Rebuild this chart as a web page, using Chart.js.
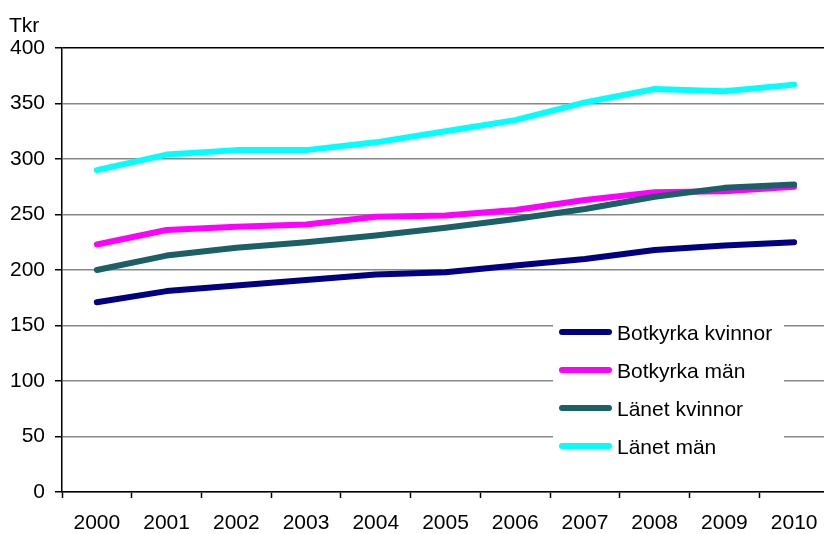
<!DOCTYPE html>
<html>
<head>
<meta charset="utf-8">
<script src="https://cdn.jsdelivr.net/npm/chart.js@4/dist/chart.umd.min.js"></script>
<style>
html, body { margin: 0; padding: 0; background: #fff; overflow: hidden; }
#wrap { width: 832px; height: 534px; }
</style>
</head>
<body>
<div id="wrap"><canvas id="c" width="832" height="534"></canvas></div>
<script>
var years = ['2000', '2001', '2002', '2003', '2004', '2005', '2006', '2007', '2008', '2009', '2010'];
var botkyrkaKvinnor = [171, 181, 186, 191, 196, 198, 204, 210, 218, 222, 225];
var botkyrkaMan = [223, 236, 239, 241, 248, 249, 254, 263, 270, 271, 275];
var lanetKvinnor = [200, 213, 220, 225, 231, 238, 246, 255, 266, 274, 277];
var lanetMan = [290, 304, 308, 308, 315, 325, 335, 351, 363, 361, 367];
var seriesNames = ['Botkyrka kvinnor', 'Botkyrka män', 'Länet kvinnor', 'Länet män'];
var colors = ['#000080', '#ff00ff', '#1a6066', '#00ffff'];
var font = '"Liberation Sans", Arial, sans-serif';

// unit label and legend drawn straight on the canvas
var extras = {
    id: 'extras',
    afterDatasetsDraw: function(chart) {
        var c = chart.ctx;
        c.save();
        c.fillStyle = '#000';
        c.font = '21px ' + font;
        c.textBaseline = 'alphabetic';
        c.textAlign = 'left';
        c.fillText('Tkr', 9, 32);

        c.fillStyle = '#fff';
        c.fillRect(553, 312, 231, 158);
        chart.data.datasets.forEach(function(ds, i) {
            var y = 332 + i * 38;
            c.strokeStyle = ds.borderColor;
            c.lineWidth = 6;
            c.lineCap = 'round';
            c.beginPath();
            c.moveTo(562, y);
            c.lineTo(609, y);
            c.stroke();
            c.fillStyle = '#000';
            c.textBaseline = 'middle';
            c.fillText(ds.label, 617, y + 2);
        });
        c.restore();
    }
};

var series = [botkyrkaKvinnor, botkyrkaMan, lanetKvinnor, lanetMan];

new Chart(document.getElementById('c').getContext('2d'), {
    type: 'line',
    data: {
        labels: years,
        datasets: series.map(function(d, i) {
            return {
                label: seriesNames[i],
                data: d,
                borderColor: colors[i],
                backgroundColor: colors[i],
                borderWidth: 6,
                borderCapStyle: 'round',
                borderJoinStyle: 'round',
                pointRadius: 0,
                tension: 0,
                fill: false,
                order: 4 - i
            };
        })
    },
    options: {
        responsive: false,
        animation: false,
        devicePixelRatio: 1,
        layout: { padding: { left: 0, top: 48, right: 3, bottom: 0 } },
        plugins: {
            legend: { display: false },
            tooltip: { enabled: false }
        },
        scales: {
            x: {
                offset: true,
                afterFit: function(s) { s.height = 42; },
                border: { color: '#000', width: 1.5 },
                grid: { offset: true, drawOnChartArea: false, drawTicks: true, tickLength: 6, tickColor: '#000', tickWidth: 1.5 },
                ticks: { color: '#000', font: { family: font, size: 21 }, padding: 13, maxRotation: 0 }
            },
            y: {
                min: 0,
                max: 400,
                afterFit: function(s) { s.width = 62; },
                border: { color: '#000', width: 1.5 },
                grid: {
                    color: function(ctx) { return ctx.tick && ctx.tick.value === 400 ? '#000' : '#888'; },
                    lineWidth: 1.5,
                    tickLength: 7,
                    tickColor: '#000',
                    tickWidth: 1.5
                },
                ticks: { stepSize: 50, color: '#000', font: { family: font, size: 21 }, padding: 10 }
            }
        }
    },
    plugins: [extras]
});
</script>
</body>
</html>
